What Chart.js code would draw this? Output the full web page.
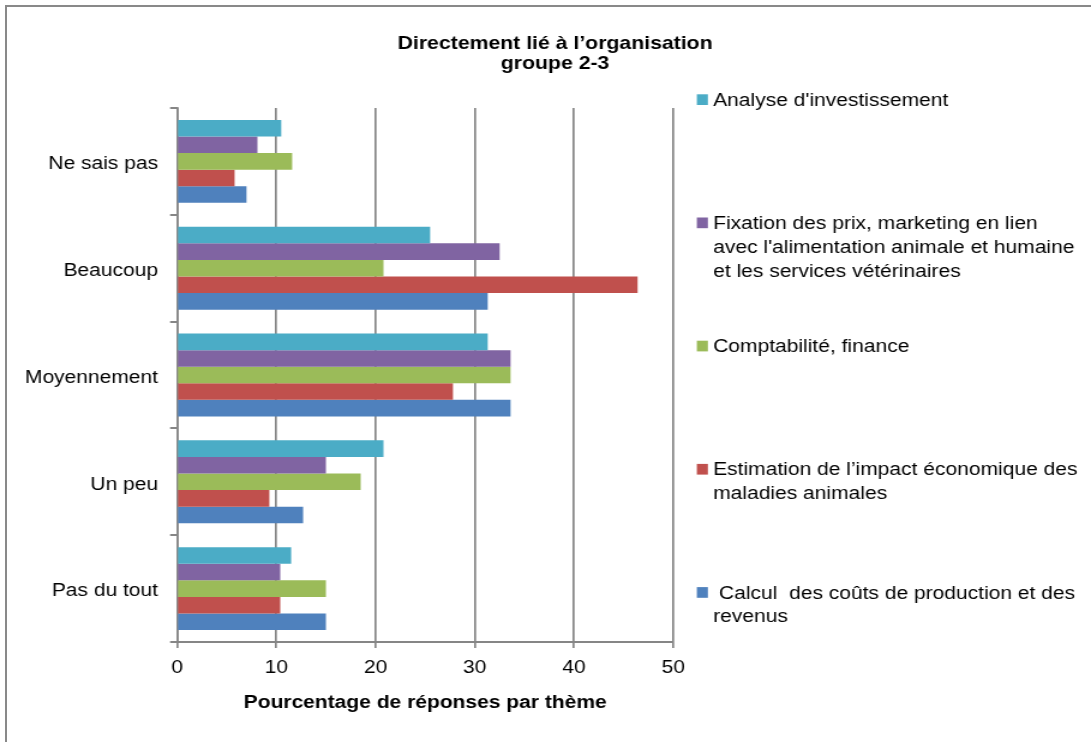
<!DOCTYPE html>
<html lang="fr">
<head>
<meta charset="utf-8">
<title>Directement lié à l’organisation – groupe 2-3</title>
<script src="https://cdn.jsdelivr.net/npm/chart.js@4.4.1/dist/chart.umd.min.js"></script>
<style>
  html, body { margin: 0; padding: 0; background: #fff; overflow: hidden; }
  #frame {
    position: absolute; left: 5px; top: 5px; width: 1100px; height: 750px;
    border-left: 2px solid #898989; border-top: 2px solid #898989; box-sizing: border-box;
  }
  /* the drawing is laid out on a narrower canvas and widened horizontally */
  #stage {
    position: absolute; left: 0; top: 0; width: 909px; height: 742px;
    transform: scaleX(1.2002); transform-origin: 0 0;
  }
</style>
</head>
<body>
<div id="frame"></div>
<div id="stage"><canvas id="chart" width="909" height="742"></canvas></div>
<script>
// Response categories (top to bottom)
const categories = ['Ne sais pas', 'Beaucoup', 'Moyennement', 'Un peu', 'Pas du tout'];

// Themes, in the order they appear inside each group and in the legend
const seriesNames = [
  "Analyse d'investissement",
  "Fixation des prix, marketing en lien\navec l'alimentation animale et humaine\net les services vétérinaires",
  "Comptabilité, finance",
  "Estimation de l’impact économique des\nmaladies animales",
  " Calcul  des coûts de production et des\nrevenus"
];

// Percentage of answers per theme
const analyseInvestissement = [10.5, 25.5, 31.3, 20.8, 11.5];
const fixationPrix          = [8.1, 32.5, 33.6, 15.0, 10.4];
const comptabiliteFinance   = [11.6, 20.8, 33.6, 18.5, 15.0];
const impactMaladies        = [5.8, 46.4, 27.8, 9.3, 10.4];
const coutsProduction       = [7.0, 31.3, 33.6, 12.7, 15.0];

const xTicks = [0, 10, 20, 30, 40, 50];
const titleLines = ['Directement lié à l’organisation', 'groupe 2-3'];
const xAxisTitle = 'Pourcentage de réponses par thème';

const seriesColors = ['#4BACC6', '#8064A2', '#9BBB59', '#C0504D', '#4F81BD'];
const seriesValues = [analyseInvestissement, fixationPrix, comptabiliteFinance, impactMaladies, coutsProduction];

const FONT = "'Liberation Sans', Arial, Helvetica, sans-serif";
const GRID = '#868686';

// Two-line chart title
const chartTitle = {
  id: 'chartTitle',
  afterDraw(chart, args, opts) {
    const ctx = chart.ctx;
    ctx.save();
    ctx.font = `bold ${opts.size}px ${FONT}`;
    ctx.fillStyle = '#000';
    ctx.textAlign = 'center';
    ctx.textBaseline = 'alphabetic';
    titleLines.forEach((line, i) => ctx.fillText(line, opts.x, opts.baseline + i * opts.lineHeight));
    ctx.restore();
  }
};

// Legend on the right, entries spread down the height of the plot
const sideLegend = {
  id: 'sideLegend',
  afterDraw(chart, args, opts) {
    const ctx = chart.ctx;
    ctx.save();
    ctx.font = `${opts.size}px ${FONT}`;
    ctx.textAlign = 'left';
    ctx.textBaseline = 'alphabetic';
    chart.data.datasets.forEach((ds, i) => {
      const base = opts.top + i * opts.step;
      ctx.fillStyle = ds.backgroundColor;
      ctx.fillRect(opts.boxX, base - opts.boxH - 0.7, opts.boxW, opts.boxH);
      ctx.fillStyle = '#000';
      ds.label.split('\n').forEach((line, k) => ctx.fillText(line, opts.textX, base + k * opts.lineHeight));
    });
    ctx.restore();
  }
};

new Chart(document.getElementById('chart'), {
  type: 'bar',
  data: {
    labels: categories,
    datasets: seriesNames.map((name, i) => ({
      label: name,
      data: seriesValues[i],
      backgroundColor: seriesColors[i],
      borderWidth: 0,
      categoryPercentage: 0.776,
      barPercentage: 1
    }))
  },
  options: {
    indexAxis: 'y',
    responsive: false,
    animation: false,
    devicePixelRatio: 1,
    layout: { padding: { top: 108, left: 0, right: 348, bottom: 18 } },
    plugins: {
      legend: { display: false },
      title: { display: false },
      tooltip: { enabled: false },
      chartTitle: { x: 462.5, baseline: 48.5, lineHeight: 20.8, size: 17.7 },
      sideLegend: { top: 105.7, step: 123.2, lineHeight: 23.8, size: 17.5, boxX: 580.6, boxW: 9.2, boxH: 10.7, textX: 594.2 }
    },
    scales: {
      x: {
        type: 'linear',
        min: 0,
        max: 50,
        afterBuildTicks: s => { s.ticks = xTicks.map(v => ({ value: v })); },
        grid: { color: GRID, lineWidth: 1.7, tickLength: 6, drawTicks: true },
        border: { display: true, color: GRID, width: 2 },
        ticks: { color: '#000', padding: 10, font: { family: FONT, size: 17.5 } },
        title: {
          display: true,
          text: xAxisTitle,
          color: '#000',
          font: { family: FONT, size: 17.5, weight: 'bold' },
          padding: { top: 4, bottom: 10 }
        }
      },
      y: {
        type: 'category',
        afterFit: s => { s.width = 147.5; },
        grid: { offset: true, drawOnChartArea: false, drawTicks: true, tickLength: 5.8, color: GRID, lineWidth: 2 },
        border: { display: true, color: GRID, width: 1.7 },
        ticks: { color: '#000', padding: 10, labelOffset: 3, font: { family: FONT, size: 17.5 } }
      }
    }
  },
  plugins: [chartTitle, sideLegend]
});
</script>
</body>
</html>
